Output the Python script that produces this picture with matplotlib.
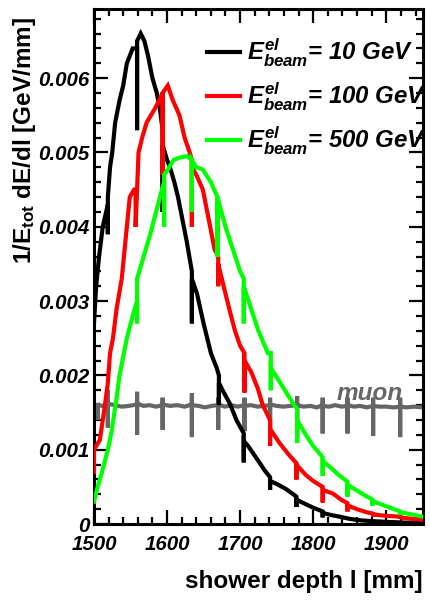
import matplotlib
matplotlib.use("Agg")
import matplotlib.pyplot as plt
from matplotlib.ticker import MultipleLocator, FixedLocator, FixedFormatter

plt.rcParams['font.family'] = ['Liberation Sans', 'DejaVu Sans']
plt.rcParams['mathtext.fontset'] = 'custom'
plt.rcParams['mathtext.rm'] = 'Liberation Sans:bold:italic'
plt.rcParams['mathtext.it'] = 'Liberation Sans:bold:italic'
plt.rcParams['mathtext.bf'] = 'Liberation Sans:bold:italic'

# Longitudinal shower profiles; layer boundaries show up as narrow notches
e10_x = [1500, 1503, 1507, 1512, 1519, 1519, 1519, 1522, 1525, 1529, 1535, 1540,
         1545, 1549, 1553, 1559, 1559, 1559, 1564, 1569, 1574, 1580, 1586, 1590,
         1594, 1594, 1594, 1600, 1604, 1610, 1615, 1621, 1627, 1634, 1634, 1634,
         1641, 1650, 1660, 1668, 1671, 1671, 1671, 1676, 1686, 1695, 1705, 1705,
         1705, 1711, 1720, 1727, 1733, 1741, 1741, 1741, 1750, 1763, 1777, 1777,
         1777, 1785, 1800, 1813, 1813, 1813, 1825, 1836, 1850, 1865, 1880, 1900,
         1925, 1950]
e10_y = [0.0027, 0.0032, 0.0036, 0.0040, 0.0043, 0.0039, 0.0044, 0.0048, 0.0050,
         0.0054, 0.0057, 0.0059, 0.0062, 0.0063, 0.0064, 0.0064, 0.0053, 0.0065,
         0.0066, 0.0065, 0.0063, 0.0060, 0.0058, 0.0056, 0.0053, 0.0042, 0.0051,
         0.0049, 0.0048, 0.0046, 0.0044, 0.0041, 0.0038, 0.0034, 0.0027, 0.0033,
         0.0031, 0.0027, 0.0023, 0.0021, 0.0020, 0.0016, 0.0019, 0.0018, 0.00162,
         0.0014, 0.00122, 0.00083, 0.00112, 0.00105, 0.00092, 0.00082, 0.00073,
         0.00063, 0.00046, 0.00058, 0.00054, 0.00047, 0.00037, 0.00023, 0.00033,
         0.00029, 0.00022, 0.00017, 0.00009, 0.00015, 0.00012, 0.00010, 0.00007,
         0.00005, 0.00004, 0.00003, 0.00002, 0.00001]

e100_x = [1500, 1500, 1503, 1508, 1515, 1519, 1522, 1526, 1531, 1538, 1545, 1549,
          1555, 1557, 1557, 1561, 1566, 1572, 1578, 1584, 1589, 1594, 1594, 1594,
          1601, 1608, 1617, 1624, 1631, 1634, 1634, 1634, 1640, 1649, 1657, 1665,
          1670, 1670, 1670, 1675, 1685, 1693, 1700, 1706, 1706, 1706, 1715, 1724,
          1731, 1741, 1741, 1741, 1754, 1766, 1777, 1777, 1777, 1790, 1800, 1813,
          1813, 1813, 1827, 1838, 1847, 1847, 1847, 1860, 1873, 1882, 1882, 1882,
          1900, 1919, 1919, 1919, 1935, 1950]
e100_y = [0.0007, 0.0010, 0.00105, 0.00113, 0.0016, 0.0019, 0.0023, 0.0025,
          0.0029, 0.0033, 0.0040, 0.0044, 0.0045, 0.0045, 0.0040, 0.0050, 0.0052,
          0.0054, 0.0055, 0.0056, 0.0057, 0.0058, 0.0047, 0.0058, 0.0059, 0.0057,
          0.0055, 0.0052, 0.0050, 0.0049, 0.0040, 0.0048, 0.0047, 0.0045, 0.0041,
          0.0037, 0.0036, 0.0032, 0.0035, 0.0033, 0.0029, 0.0026, 0.0024, 0.0023,
          0.00177, 0.0022, 0.00205, 0.00183, 0.0016, 0.0014, 0.00105, 0.00128,
          0.00109, 0.00094, 0.00082, 0.0006, 0.0008, 0.00066, 0.00058, 0.0005,
          0.00029, 0.00046, 0.00041, 0.00033, 0.00028, 0.00017, 0.00025, 0.0002,
          0.00016, 0.00014, 0.0001, 0.00013, 0.00011, 0.0001, 0.00007, 0.00009,
          0.00007, 0.00006]

e500_x = [1500, 1505, 1511, 1519, 1524, 1531, 1535, 1545, 1553, 1559, 1559, 1559,
          1565, 1571, 1577, 1585, 1593, 1596, 1596, 1596, 1601, 1609, 1617, 1627,
          1634, 1634, 1634, 1640, 1649, 1660, 1669, 1669, 1669, 1680, 1690, 1700,
          1705, 1705, 1705, 1715, 1725, 1738, 1742, 1742, 1742, 1755, 1772, 1778,
          1778, 1778, 1790, 1800, 1813, 1813, 1813, 1825, 1835, 1847, 1847, 1847,
          1860, 1870, 1881, 1881, 1881, 1900, 1919, 1919, 1919, 1935, 1950]
e500_y = [0.0003, 0.0005, 0.0007, 0.0010, 0.00124, 0.0017, 0.0020, 0.0025, 0.0028,
          0.0030, 0.0027, 0.0033, 0.0035, 0.0037, 0.0039, 0.0042, 0.0045, 0.0046,
          0.0040, 0.0047, 0.00477, 0.0049, 0.00493, 0.00495, 0.0049, 0.0042,
          0.0049, 0.0048, 0.00477, 0.0046, 0.0044, 0.0036, 0.0044, 0.0040, 0.0037,
          0.0034, 0.0033, 0.0027, 0.0032, 0.0029, 0.0026, 0.0023, 0.0023, 0.0018,
          0.0021, 0.0019, 0.00163, 0.00155, 0.00109, 0.0014, 0.0012, 0.00105,
          0.0009, 0.00065, 0.00085, 0.00075, 0.00066, 0.00057, 0.00037, 0.00053,
          0.00045, 0.00039, 0.00033, 0.00025, 0.00031, 0.00024, 0.00017, 0.00012,
          0.00016, 0.00013, 0.0001]

muon_x = [1500, 1505, 1505, 1505, 1512, 1519, 1519, 1519, 1519, 1528, 1538, 1548,
          1559, 1559, 1559, 1559, 1568, 1576, 1585, 1594, 1594, 1594, 1594, 1604,
          1614, 1624, 1634, 1634, 1634, 1634, 1643, 1652, 1661, 1670, 1670, 1670,
          1670, 1679, 1688, 1697, 1706, 1706, 1706, 1706, 1715, 1724, 1733, 1741,
          1741, 1741, 1741, 1750, 1759, 1768, 1778, 1778, 1778, 1778, 1787, 1796,
          1805, 1813, 1813, 1813, 1813, 1822, 1830, 1839, 1847, 1847, 1847, 1847,
          1856, 1864, 1873, 1882, 1882, 1882, 1882, 1891, 1900, 1910, 1919, 1919,
          1919, 1919, 1928, 1938, 1950]
muon_y = [0.00158, 0.00160, 0.00140, 0.00160, 0.00159, 0.00161, 0.00180, 0.00130,
          0.00162, 0.00160, 0.00158, 0.00159, 0.00161, 0.00178, 0.00120, 0.00162,
          0.00159, 0.00160, 0.00158, 0.00160, 0.00170, 0.00127, 0.00161, 0.00159,
          0.00160, 0.00158, 0.00161, 0.00176, 0.00117, 0.00160, 0.00159, 0.00157,
          0.00159, 0.00160, 0.00170, 0.00127, 0.00161, 0.00158, 0.00160, 0.00158,
          0.00160, 0.00170, 0.00125, 0.00159, 0.00160, 0.00158, 0.00159, 0.00160,
          0.00170, 0.00122, 0.00161, 0.00159, 0.00158, 0.00159, 0.00160, 0.00172,
          0.00115, 0.00160, 0.00158, 0.00159, 0.00157, 0.00160, 0.00170, 0.00122,
          0.00159, 0.00158, 0.00160, 0.00158, 0.00159, 0.00170, 0.00122, 0.00160,
          0.00158, 0.00159, 0.00157, 0.00159, 0.00170, 0.00119, 0.00159, 0.00158,
          0.00158, 0.00157, 0.00158, 0.00170, 0.00117, 0.00158, 0.00157, 0.00158,
          0.00157]

series_labels = [r'$E^{el}_{beam}$= 10 GeV', r'$E^{el}_{beam}$= 100 GeV',
                 r'$E^{el}_{beam}$= 500 GeV']
series_colors = ['#000000', '#ff0000', '#00ff00']
muon_label = 'muon'
muon_color = '#666666'

x_ticks = [1500, 1600, 1700, 1800, 1900]
x_tick_labels = ['1500', '1600', '1700', '1800', '1900']
y_ticks = [0, 0.001, 0.002, 0.003, 0.004, 0.005, 0.006]
y_tick_labels = ['0', '0.001', '0.002', '0.003', '0.004', '0.005', '0.006']
x_title = 'shower depth l [mm]'
y_title = r'1/E$_{\mathregular{tot}}$ dE/dl [GeV/mm]'

fig = plt.figure(figsize=(4.31, 6.01), dpi=100)
ax = fig.add_axes([0.218, 0.128, 0.763, 0.857])

lw = 3.0
ax.plot(muon_x, muon_y, color=muon_color, lw=lw, solid_joinstyle='miter', zorder=2)
handles = []
for xs, ys, c, lab in zip([e10_x, e100_x, e500_x], [e10_y, e100_y, e500_y],
                          series_colors, series_labels):
    h, = ax.plot(xs, ys, color=c, lw=lw, label=lab, solid_joinstyle='miter', zorder=3)
    handles.append(h)

ax.set_xlim(1500, 1950)
ax.set_ylim(0, 0.00693)

ax.xaxis.set_major_locator(FixedLocator(x_ticks))
ax.xaxis.set_major_formatter(FixedFormatter(x_tick_labels))
ax.xaxis.set_minor_locator(MultipleLocator(20))
ax.yaxis.set_major_locator(FixedLocator(y_ticks))
ax.yaxis.set_major_formatter(FixedFormatter(y_tick_labels))
ax.yaxis.set_minor_locator(MultipleLocator(0.0002))

ax.tick_params(which='both', direction='in', top=True, right=True, width=1.6)
ax.tick_params(which='major', length=10)
ax.tick_params(which='minor', length=5)
ax.tick_params(axis='x', which='major', pad=8)
ax.tick_params(axis='y', which='major', pad=3)
for lab in ax.get_xticklabels() + ax.get_yticklabels():
    lab.set_fontsize(14.8)
    lab.set_fontweight('bold')
    lab.set_fontstyle('italic')
for sp in ax.spines.values():
    sp.set_linewidth(2.2)

ax.set_xlabel(x_title, fontsize=17.5, fontweight='bold', loc='right')
ax.xaxis.set_label_coords(1.0, -0.09)
ax.set_ylabel(y_title, fontsize=17.5, fontweight='bold', loc='top')
ax.yaxis.set_label_coords(-0.17, 0.985)

ax.text(1832, 0.00167, muon_label, color=muon_color, fontsize=17.5,
        fontweight='bold', fontstyle='italic', ha='left', va='baseline', zorder=4)

leg = ax.legend(handles=handles, loc='upper left', bbox_to_anchor=(0.345, 0.947),
                frameon=False, fontsize=17.3, handlelength=1.35, handletextpad=0.3,
                labelspacing=0.5, borderaxespad=0.0, borderpad=0.0)
for t in leg.get_texts():
    t.set_fontweight('bold')
    t.set_fontstyle('italic')
    t.set_clip_on(True)
    t.set_clip_box(ax.bbox)

fig.savefig('out.png', dpi=100)
